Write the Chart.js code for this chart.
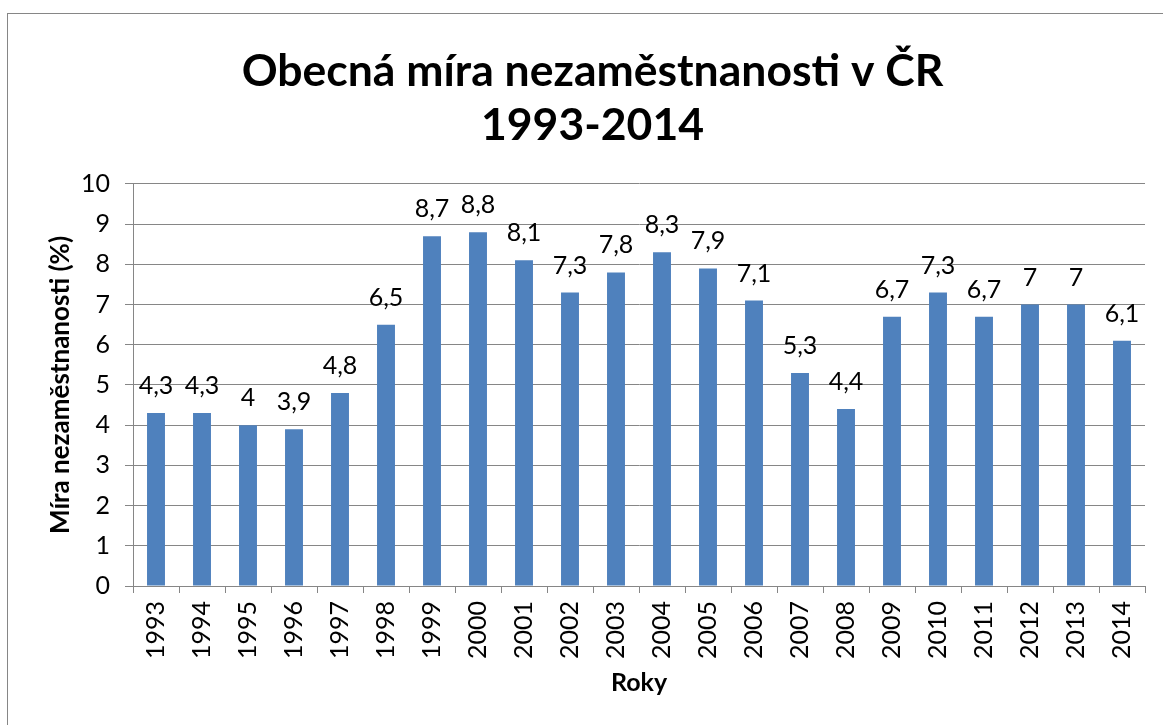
<!DOCTYPE html>
<html>
<head>
<meta charset="utf-8">
<script src="https://cdn.jsdelivr.net/npm/chart.js@4.4.1/dist/chart.umd.min.js"></script>
<style>
  html, body { margin: 0; padding: 0; background: #fff; overflow: hidden; }
  #wrap { position: relative; width: 1163px; height: 725px; }
  #frame { position: absolute; left: 7px; top: 13px; width: 1200px; height: 800px;
           border-left: 1px solid #868686; border-top: 1px solid #868686; box-sizing: border-box; }
  canvas { position: absolute; left: 0; top: 0; }
</style>
</head>
<body>
<div id="wrap">
  <div id="frame"></div>
  <canvas id="c" width="1163" height="725"></canvas>
</div>
<script>
const categories = ['1993','1994','1995','1996','1997','1998','1999','2000','2001','2002','2003','2004','2005','2006','2007','2008','2009','2010','2011','2012','2013','2014'];
const values = [4.3, 4.3, 4.0, 3.9, 4.8, 6.5, 8.7, 8.8, 8.1, 7.3, 7.8, 8.3, 7.9, 7.1, 5.3, 4.4, 6.7, 7.3, 6.7, 7.0, 7.0, 6.1];
const yTicks = [0,1,2,3,4,5,6,7,8,9,10];
const titleLines = ['Obecná míra nezaměstnanosti v ČR', '1993-2014'];
const xTitle = 'Roky';
const yTitle = 'Míra nezaměstnanosti (%)';

const FONT = 'Lato';

const dataLabels = {
  id: 'dataLabels',
  afterDatasetsDraw(chart) {
    const ctx = chart.ctx;
    const meta = chart.getDatasetMeta(0);
    ctx.save();
    ctx.font = '25px ' + FONT;
    ctx.fillStyle = '#000';
    ctx.textAlign = 'center';
    ctx.textBaseline = 'alphabetic';
    meta.data.forEach((bar, i) => {
      const txt = String(values[i]).replace('.', ',');
      ctx.fillText(txt, bar.x, bar.y - 19);
    });
    ctx.restore();
  }
};

new Chart(document.getElementById('c'), {
  type: 'bar',
  data: {
    labels: categories,
    datasets: [{
      data: values,
      backgroundColor: '#4F81BD',
      borderWidth: 0,
      barPercentage: 0.39,
      categoryPercentage: 1.0
    }]
  },
  options: {
    responsive: false,
    animation: false,
    devicePixelRatio: 1,
    layout: { padding: { left: 40, right: 18, top: 0, bottom: 0 } },
    plugins: {
      legend: { display: false },
      tooltip: { enabled: false },
      title: {
        display: true,
        text: titleLines,
        color: '#000',
        font: { family: FONT, size: 44.5, weight: 'bold', lineHeight: 1.213 },
        padding: { top: 45, bottom: 31 }
      }
    },
    scales: {
      x: {
        offset: true,
        grid: { display: true, drawOnChartArea: false, drawTicks: true, tickLength: 7, color: '#868686', offset: true },
        border: { display: true, color: '#868686', width: 1 },
        ticks: { color: '#000', font: { family: FONT, size: 25 }, minRotation: 90, maxRotation: 90, padding: 8, autoSkip: false },
        title: { display: true, text: xTitle, color: '#000', font: { family: FONT, size: 25, weight: 'bold' }, padding: { top: 4, bottom: 27 } },
        afterFit(scale) { scale.height = 139; }
      },
      y: {
        min: 0, max: 10,
        afterBuildTicks(scale) { scale.ticks = yTicks.map(v => ({ value: v })); },
        grid: { color: '#868686', tickLength: 8, lineWidth: 1 },
        border: { display: true, color: '#868686', width: 1 },
        ticks: { color: '#000', font: { family: FONT, size: 25 }, padding: 15 },
        title: { display: true, text: yTitle, color: '#000', font: { family: FONT, size: 26, weight: 'bold' }, padding: { top: 5, bottom: 0 } },
        afterFit(scale) { scale.width = 93; }
      }
    }
  },
  plugins: [dataLabels]
});
</script>
</body>
</html>
